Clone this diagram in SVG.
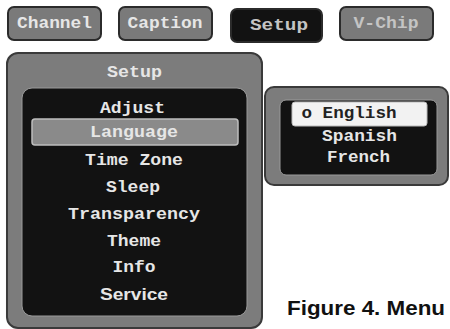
<svg xmlns="http://www.w3.org/2000/svg" width="450" height="329" viewBox="0 0 450 329">
<style>
.tab{fill:#7a7a7a;stroke:#2b2b2b;stroke-width:2}
.tabOn{fill:#121212;stroke:#2b2b2b;stroke-width:2}
.panel{fill:#7c7c7c;stroke:#3a3a3a;stroke-width:2}
.inner{fill:#121212;stroke:#9a9a9a;stroke-width:1}
.mono{font-family:"Liberation Mono","Courier New",monospace;font-weight:bold;font-size:16px;text-anchor:middle}
.lt{fill:#e6e6e6}
.dim{fill:#c4c4c4}
.dk{fill:#222}
.sans{font-family:"Liberation Sans",Arial,sans-serif;font-weight:bold}
</style>
<rect width="450" height="329" fill="#fff"/>
<g id="tab-channel"><rect class="tab" x="8" y="7" width="93" height="33" rx="6"/><text class="mono lt" x="54.5" y="28" textLength="75" lengthAdjust="spacingAndGlyphs">Channel</text></g>
<g id="tab-caption"><rect class="tab" x="119" y="7" width="93" height="33" rx="6"/><text class="mono lt" x="165" y="28" textLength="75" lengthAdjust="spacingAndGlyphs">Caption</text></g>
<g id="tab-setup"><rect class="tabOn" x="231" y="9" width="91" height="33" rx="6"/><text class="mono dim" x="279" y="30" textLength="58" lengthAdjust="spacingAndGlyphs">Setup</text></g>
<g id="tab-vchip"><rect class="tab" x="340" y="7" width="93" height="33" rx="6"/><text class="mono dim" x="386" y="28" textLength="65" lengthAdjust="spacingAndGlyphs">V-Chip</text></g>
<g id="setup-panel">
<rect class="panel" x="7" y="53" width="255" height="275" rx="11"/>
<text class="mono lt" x="134.5" y="77" textLength="55" lengthAdjust="spacingAndGlyphs">Setup</text>
<rect class="inner" x="22" y="88" width="225" height="228" rx="10"/>
<rect x="32" y="119" width="206" height="26" rx="3" fill="#8a8a8a" stroke="#bdbdbd" stroke-width="1.5"/>
<text class="mono lt" x="132.5" y="113" textLength="65" lengthAdjust="spacingAndGlyphs">Adjust</text>
<text class="mono lt" x="134" y="137" textLength="88" lengthAdjust="spacingAndGlyphs">Language</text>
<text class="mono lt" x="134" y="165" textLength="98" lengthAdjust="spacingAndGlyphs">Time Zone</text>
<text class="mono lt" x="133" y="192" textLength="54" lengthAdjust="spacingAndGlyphs">Sleep</text>
<text class="mono lt" x="134" y="219" textLength="132" lengthAdjust="spacingAndGlyphs">Transparency</text>
<text class="mono lt" x="134" y="246" textLength="54" lengthAdjust="spacingAndGlyphs">Theme</text>
<text class="mono lt" x="134" y="272" textLength="43" lengthAdjust="spacingAndGlyphs">Info</text>
<text class="sans lt" x="134" y="300" font-size="16" text-anchor="middle" textLength="68" lengthAdjust="spacingAndGlyphs">Service</text>
</g>
<g id="language-panel">
<rect class="panel" x="265" y="87" width="183" height="98" rx="9"/>
<rect class="inner" x="280" y="100" width="157" height="75" rx="6"/>
<rect x="292" y="102" width="135" height="24" rx="3" fill="#f2f2f2" stroke="#bbb" stroke-width="1"/>
<text class="mono dk" x="349" y="118" textLength="95" lengthAdjust="spacingAndGlyphs">o English</text>
<text class="mono lt" x="359.5" y="141" textLength="75" lengthAdjust="spacingAndGlyphs">Spanish</text>
<text class="mono lt" x="358.5" y="162" textLength="63" lengthAdjust="spacingAndGlyphs">French</text>
</g>
<text class="sans" x="287" y="315" font-size="21" fill="#111" textLength="158" lengthAdjust="spacingAndGlyphs">Figure 4. Menu</text>
</svg>
